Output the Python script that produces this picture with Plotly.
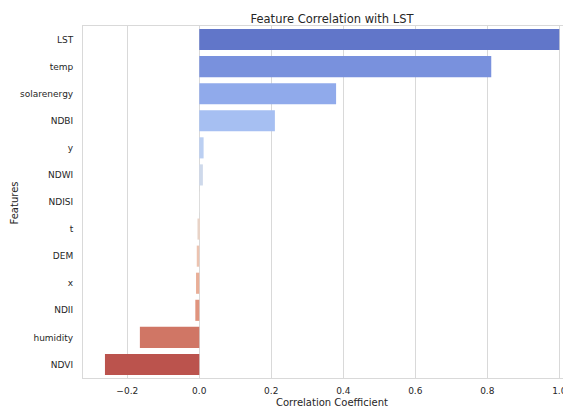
import colorsys
import numpy as np
import plotly.graph_objects as go

# Correlation of each feature with land surface temperature (LST)
features = ["LST", "temp", "solarenergy", "NDBI", "y", "NDWI", "NDISI",
            "t", "DEM", "x", "NDII", "humidity", "NDVI"]
correlation = [1.0, 0.811, 0.38, 0.21, 0.012, 0.010, 0.001,
               -0.005, -0.007, -0.009, -0.011, -0.165, -0.262]
x_tick_values = [-0.2, 0.0, 0.2, 0.4, 0.6, 0.8, 1.0]
x_tick_labels = ["\u22120.2", "0.0", "0.2", "0.4", "0.6", "0.8", "1.0"]

# Diverging "coolwarm" colour map, sampled evenly across the bars
_cw_pos = np.linspace(0, 1, 33)
_cw_rgb = np.array([
    (59, 76, 192), (68, 90, 204), (77, 104, 215), (87, 117, 225),
    (98, 130, 234), (108, 142, 241), (119, 154, 247), (130, 165, 251),
    (141, 176, 254), (152, 185, 255), (163, 194, 255), (174, 201, 253),
    (184, 208, 249), (194, 213, 244), (204, 217, 238), (213, 219, 230),
    (221, 221, 221), (229, 216, 209), (236, 211, 197), (241, 204, 185),
    (245, 196, 173), (247, 187, 160), (247, 177, 148), (247, 166, 135),
    (244, 154, 123), (241, 141, 111), (236, 127, 99), (229, 112, 88),
    (222, 96, 77), (213, 80, 66), (203, 62, 56), (192, 40, 47),
    (180, 4, 38)], dtype=float)


def coolwarm(n, saturation=0.75):
    pts = np.linspace(0, 1, n + 2)[1:-1]
    out = []
    for p in pts:
        r, g, b = (np.interp(p, _cw_pos, _cw_rgb[:, k]) / 255 for k in range(3))
        h, l, s = colorsys.rgb_to_hls(r, g, b)
        r, g, b = colorsys.hls_to_rgb(h, l, s * saturation)
        out.append(f"rgb({r * 255:.0f},{g * 255:.0f},{b * 255:.0f})")
    return out


bar_colors = coolwarm(len(features))

TEXT = "#262626"
GRID = "#d9d9d9"
FONT = "DejaVu Sans"

W, H = 563, 407
L, R, T, B = 83, 0, 26, 29
plot_w = W - L - R
plot_h = H - T - B

fig = go.Figure(go.Bar(
    x=correlation,
    y=features,
    orientation="h",
    marker=dict(color=bar_colors, line=dict(width=0)),
    hoverinfo="x+y",
))

fig.update_layout(
    width=W, height=H,
    margin=dict(l=L, r=R, t=T, b=B, pad=0, autoexpand=False),
    paper_bgcolor="white",
    plot_bgcolor="white",
    bargap=0.22,
    showlegend=False,
    font=dict(family=FONT, color=TEXT, size=9),
    title=dict(
        text="Feature Correlation with LST",
        font=dict(family=FONT, size=11.5, color=TEXT),
        xref="container", x=332 / W, xanchor="center",
        yref="container", y=1 - 18.5 / H, yanchor="middle",
    ),
)

fig.update_xaxes(
    range=[-0.323, 1.0103],
    tickvals=x_tick_values,
    ticktext=x_tick_labels,
    showgrid=True, gridcolor=GRID, gridwidth=1,
    zeroline=False, automargin=False,
    showline=True, linecolor=GRID, linewidth=1, mirror=True,
    ticks="", ticklabelstandoff=4, ticklabeloverflow="allow",
    tickfont=dict(family=FONT, size=9, color=TEXT),
)

fig.update_yaxes(
    type="category",
    categoryorder="array", categoryarray=features,
    range=[len(features) - 0.5, -0.5],
    showgrid=False, zeroline=False, automargin=False,
    showline=True, linecolor=GRID, linewidth=1, mirror=False,
    ticks="", ticklabelstandoff=7,
    tickfont=dict(family=FONT, size=9, color=TEXT),
)

# Axis titles
fig.add_annotation(
    text="Correlation Coefficient",
    xref="paper", yref="paper",
    x=(332 - L) / plot_w, y=-(402 - (T + plot_h)) / plot_h,
    xanchor="center", yanchor="middle", showarrow=False,
    font=dict(family=FONT, size=10, color=TEXT),
)
fig.add_annotation(
    text="Features",
    xref="paper", yref="paper",
    x=(13.5 - L) / plot_w, y=0.5 - (203 - (T + plot_h / 2)) / plot_h,
    xanchor="center", yanchor="middle", showarrow=False, textangle=-90,
    font=dict(family=FONT, size=10, color=TEXT),
)

fig.write_html("out.html")
